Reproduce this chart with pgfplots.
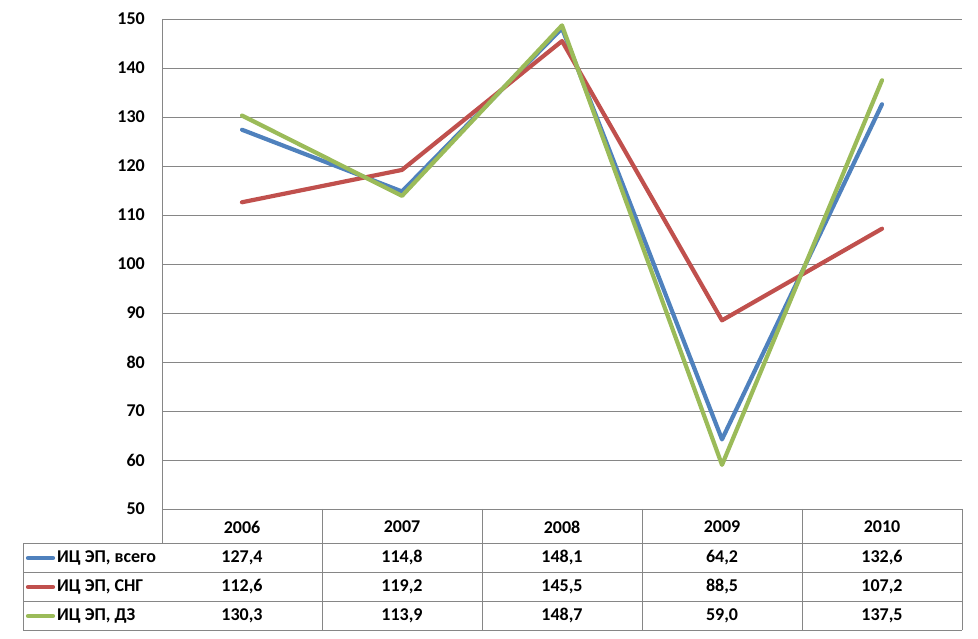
\documentclass[border=0pt]{standalone}
\usepackage{fontspec}
\setmainfont{Carlito}
\usepackage{pgfplots}
\pgfplotsset{compat=1.18}
\definecolor{sblue}{HTML}{4F81BD}
\definecolor{sred}{HTML}{C0504D}
\definecolor{sgreen}{HTML}{9BBB59}
\definecolor{gridc}{HTML}{868686}
\begin{document}
\begin{tikzpicture}
\useasboundingbox (0pt,0pt) rectangle (978pt,638pt);
\begin{axis}[
  at={(162pt,129pt)}, anchor=south west,
  scale only axis, width=800pt, height=490pt,
  xmin=-0.5, xmax=4.5, ymin=50, ymax=150,
  ytick={50,60,...,150}, xtick=\empty,
  ymajorgrids, grid style={gridc, line width=0.9pt},
  axis line style={draw=none},
  major tick length=0pt,
  /pgf/number format/assume math mode=true,
  yticklabel style={font=\bfseries\fontsize{18}{20}\selectfont, inner sep=0pt, anchor=east, xshift=-17pt},
  every axis plot/.append style={line width=4.2pt, line cap=round, line join=round, mark=none},
  clip=false,
]
\addplot[sblue] coordinates {(0,127.4) (1,114.8) (2,148.1) (3,64.2) (4,132.6)};
\addplot[sred] coordinates {(0,112.6) (1,119.2) (2,145.5) (3,88.5) (4,107.2)};
\addplot[sgreen] coordinates {(0,130.3) (1,113.9) (2,148.7) (3,59.0) (4,137.5)};
\end{axis}
\begin{scope}[x=1pt,y=1pt]
\begin{scope}[draw=gridc, line width=0.9pt]
\draw (162,619) -- (162,95);
\draw (162,129) -- (962,129);
\draw (23,95) -- (962,95);
\draw (23,66) -- (962,66);
\draw (23,37) -- (962,37);
\draw (23,8) -- (962,8);
\draw (23,95) -- (23,8);
\foreach \x in {322,482,642,802,962} \draw (\x,129) -- (\x,8);
\end{scope}
\begin{scope}[font=\bfseries\fontsize{18}{20}\selectfont]
\node at (242,111) {2006}; \node at (402,111) {2007}; \node at (562,111) {2008}; \node at (722,111) {2009}; \node at (882,111) {2010};
\node at (242,80) {127,4}; \node at (402,80) {114,8}; \node at (562,80) {148,1}; \node at (722,80) {64,2}; \node at (882,80) {132,6};
\node at (242,51) {112,6}; \node at (402,51) {119,2}; \node at (562,51) {145,5}; \node at (722,51) {88,5}; \node at (882,51) {107,2};
\node at (242,22) {130,3}; \node at (402,22) {113,9}; \node at (562,22) {148,7}; \node at (722,22) {59,0}; \node at (882,22) {137,5};
\draw[sblue, line width=4.2pt, line cap=round] (28,80) -- (53,80);
\draw[sred, line width=4.2pt, line cap=round] (28,51) -- (53,51);
\draw[sgreen, line width=4.2pt, line cap=round] (28,22) -- (53,22);
\node[anchor=west, inner sep=0pt] at (57,80) {ИЦ ЭП, всего};
\node[anchor=west, inner sep=0pt] at (57,51) {ИЦ ЭП, СНГ};
\node[anchor=west, inner sep=0pt] at (57,22) {ИЦ ЭП, ДЗ};
\end{scope}
\end{scope}
\end{tikzpicture}
\end{document}
